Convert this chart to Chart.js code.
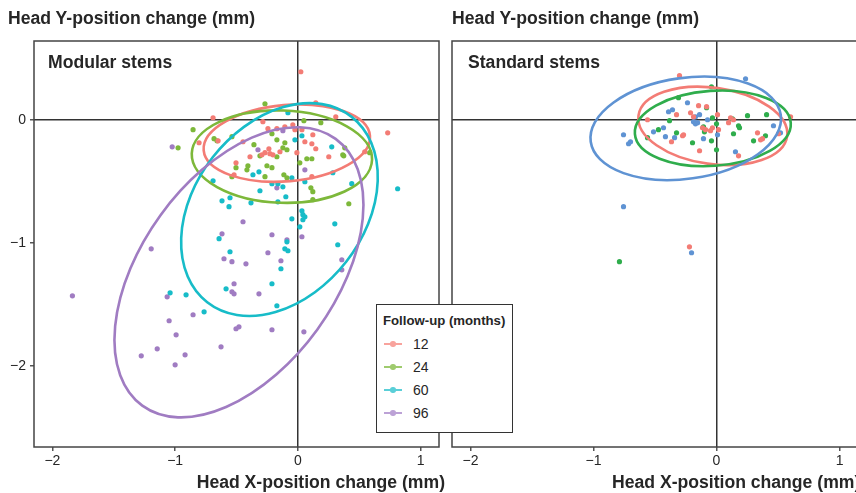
<!DOCTYPE html>
<html>
<head>
<meta charset="utf-8">
<title>Head position change</title>
<script src="https://cdn.jsdelivr.net/npm/chart.js@4.4.1/dist/chart.umd.min.js"></script>
<style>
  html, body { margin: 0; padding: 0; background: #fff; overflow: hidden; }
  body { width: 856px; height: 493px; position: relative; font-family: "Liberation Sans", Arial, sans-serif; color: #262626; }
  .panel { position: absolute; top: 0; height: 493px; }
  #leftPanel { left: 0; width: 443px; }
  #rightPanel { left: 443px; width: 420px; }
  .txt { position: absolute; white-space: nowrap; font-weight: bold; font-size: 17.6px; line-height: 20px; }
  #legend { position: absolute; left: 376px; top: 304px; width: 135px; height: 127px; background: #fff; border: 1.5px solid #333; z-index: 5; }
  #legend .ltitle { position: absolute; left: 6px; top: 8px; font-size: 13.2px; font-weight: bold; white-space: nowrap; }
  #legend .row { position: absolute; left: 7px; height: 16px; font-size: 14px; line-height: 16px; }
  #legend .sym { position: absolute; left: 0; top: 7px; width: 18px; height: 1.5px; }
  #legend .dot { position: absolute; left: 6px; top: -2px; width: 5.5px; height: 5.5px; border-radius: 50%; }
  #legend .lab { position: absolute; left: 29px; top: 0; }
</style>
</head>
<body>
<div class="panel" id="leftPanel"><canvas id="modularChart" width="443" height="493"></canvas></div>
<div class="panel" id="rightPanel"><canvas id="standardChart" width="420" height="493"></canvas></div>

<div class="txt" style="left:8px; top:8px;">Head Y-position change (mm)</div>
<div class="txt" style="left:452px; top:8px;">Head Y-position change (mm)</div>
<div class="txt" style="left:48px; top:52px;">Modular stems</div>
<div class="txt" style="left:468px; top:52px;">Standard stems</div>
<div class="txt" style="right:411px; top:472px;">Head X-position change (mm)</div>
<div class="txt" style="left:612px; top:472px;">Head X-position change (mm)</div>
<div id="legend"></div>

<script>
// Follow-up groups (months)
const groups = ['12', '24', '60', '96'];
const modularColors = ['#F37C75', '#7DB83A', '#17BCC8', '#A07CC2'];
const standardColors = ['#F37C75', '#2FAD4C', '#5F93D3'];
const legendColors = ['#F8A39D', '#9FCB6E', '#5ACFD8', '#BCA2D6'];

// x/y axis
const xRange = [-2.15, 1.15];
const yRange = [-2.66, 0.64];
const tickValues = [-2, -1, 0, 1];

// Modular stems: [x, y] in mm
const modular12 = [
  [0.024, 0.39], [0.146, 0.138], [-0.691, 0.016], [0.309, 0.024], [0.732, -0.106],
  [-0.285, -0.016], [-0.244, -0.073], [-0.171, -0.073], [-0.106, -0.057], [-0.041, -0.041],
  [-0.024, -0.081], [0.033, -0.081], [0.122, -0.122], [0.057, -0.179], [0.114, -0.195],
  [0.146, -0.236], [-0.008, -0.268], [-0.805, -0.187], [-0.650, -0.171], [-0.447, -0.179],
  [-0.236, -0.236], [-0.203, -0.285], [-0.293, -0.285], [-0.390, -0.301], [-0.268, -0.268],
  [-0.228, -0.276], [-0.146, -0.260], [-0.504, -0.350], [-0.520, -0.447], [0.114, -0.463],
  [0.252, -0.301], [0.545, -0.260]
];
const modular24 = [
  [-0.268, 0.130], [0.049, -0.008], [0.187, -0.024], [-0.854, -0.081], [-0.976, -0.228],
  [-0.683, -0.154], [-0.659, -0.171], [-0.537, -0.138], [-0.358, -0.203], [-0.211, -0.114],
  [-0.171, -0.163], [-0.106, -0.187], [-0.122, -0.228], [-0.309, -0.293], [-0.171, -0.301],
  [-0.504, -0.390], [-0.407, -0.374], [-0.415, -0.407], [-0.252, -0.374], [-0.211, -0.390],
  [-0.537, -0.463], [-0.268, -0.463], [-0.114, -0.447], [-0.089, -0.472], [0.073, -0.317],
  [0.114, -0.317], [0.016, -0.350], [0.374, -0.293], [0.585, -0.268], [0.382, -0.228],
  [0.366, -0.285], [0.106, -0.553], [0.122, -0.585], [0.122, -0.650], [0.415, -0.683],
  [-0.089, -0.244]
];
const modular60 = [
  [-0.081, 0.057], [0.033, -0.130], [-0.024, -0.163], [0.276, -0.220], [0.285, -0.431],
  [-0.049, -0.472], [0.057, -0.504], [-0.122, -0.545], [0.439, -0.520], [0.813, -0.561],
  [-0.098, -0.626], [-0.366, -0.447], [-0.317, -0.423], [-0.691, -0.496], [-0.211, -0.520],
  [-0.163, -0.520], [-0.309, -0.577], [-0.618, -0.659], [-0.553, -0.634], [-0.561, -0.707],
  [-0.382, -0.675], [-0.163, -0.667], [0.033, -0.740], [0.041, -0.772], [0.057, -0.789],
  [0.041, -0.813], [0.016, -0.870], [-0.049, -0.805], [0.301, -0.846], [0.325, -1.016],
  [-0.642, -0.967], [-0.553, -1.073], [-0.106, -1.049], [-0.081, -1.065], [-0.138, -1.211],
  [-0.211, -1.333], [-0.585, -1.374], [-1.041, -1.407], [-0.911, -1.423], [-0.764, -1.561],
  [-0.171, -1.512], [-0.089, -0.992]
];
const modular96 = [
  [-1.024, -0.220], [-0.325, -0.244], [-0.122, -0.089], [0.057, -0.407], [-0.171, -0.553],
  [-0.447, -0.829], [-0.618, -0.927], [-0.211, -0.935], [-0.089, -0.976], [0.033, -0.951],
  [-1.195, -1.049], [-0.244, -1.081], [-0.602, -1.130], [-0.537, -1.154], [-0.423, -1.171],
  [-0.138, -1.146], [0.358, -1.138], [0.358, -1.220], [-1.837, -1.431], [-0.520, -1.333],
  [-0.537, -1.398], [-0.520, -1.415], [-0.317, -1.415], [-1.065, -1.439], [-1.049, -1.634],
  [-0.854, -1.585], [-0.992, -1.748], [-0.504, -1.699], [-0.480, -1.683], [-0.211, -1.707],
  [0.049, -1.724], [-1.146, -1.862], [-1.276, -1.919], [-0.919, -1.911], [-0.626, -1.846],
  [-1.0, -1.992]
];

// Standard stems: [x, y] in mm
const standard12 = [
  [-0.301, 0.358], [-0.325, 0.041], [-0.561, 0], [-0.366, -0.179], [-0.276, -0.130],
  [-0.146, 0.114], [-0.081, 0.106], [-0.211, 0.057], [-0.187, 0.024], [0.008, 0.041],
  [0.114, 0.016], [0.138, 0], [0.602, 0.024], [-0.114, -0.065], [-0.089, -0.081],
  [-0.033, -0.065], [-0.049, -0.089], [0.016, -0.081], [0.098, -0.024], [0.333, -0.106],
  [0.374, -0.154], [0.358, -0.163], [0.504, -0.114], [-0.268, -0.122], [-0.138, -0.252],
  [0.179, -0.293], [-0.220, -1.033]
];
const standard24 = [
  [-0.382, -0.008], [-0.472, -0.081], [-0.325, -0.106], [-0.561, -0.146], [-0.309, 0.179],
  [-0.041, 0.268], [-0.081, 0.098], [-0.033, 0.016], [0.130, 0.008], [0.252, 0.033],
  [0.407, 0.041], [-0.106, -0.057], [0, -0.033], [-0.098, -0.098], [0.179, -0.049],
  [0.187, -0.065], [0.138, -0.114], [0.398, -0.130], [0.301, -0.171], [-0.041, -0.171],
  [-0.195, -0.187], [0, -0.244], [-0.789, -1.154]
];
const standard60 = [
  [0.236, 0.333], [-0.236, 0.138], [-0.390, 0.065], [-0.358, 0.081], [-0.756, -0.122],
  [-0.699, -0.179], [-0.715, -0.195], [-0.512, -0.098], [-0.431, -0.065], [-0.415, -0.138],
  [-0.341, -0.146], [-0.171, 0.024], [-0.138, 0.041], [-0.073, 0], [-0.187, -0.016],
  [-0.171, -0.033], [-0.154, -0.024], [0.008, -0.122], [0.463, -0.049], [0.520, -0.106],
  [-0.106, -0.154], [0.154, -0.260], [-0.756, -0.707], [-0.203, -1.081]
];

// Ellipses per group: [centreX, centreY, semiMajor, semiMinor, angleDeg]
const modularEllipses = [
  [-0.09, -0.19, 0.68, 0.31, 5],
  [-0.13, -0.30, 0.735, 0.375, -2],
  [-0.15, -0.73, 0.956, 0.69, 52],
  [-0.48, -1.24, 1.34, 0.79, 54]
];
const standardEllipses = [
  [-0.03, -0.05, 0.61, 0.31, -8],
  [-0.03, -0.07, 0.635, 0.305, 4],
  [-0.25, -0.07, 0.78, 0.41, 8]
];

// Draws each ellipse in data space through the chart scales
const ellipsePlugin = {
  id: 'ellipses',
  afterDatasetsDraw(chart, args, opts) {
    const { ctx, chartArea, scales: { x, y } } = chart;
    const sx = x.getPixelForValue(1) - x.getPixelForValue(0);
    const sy = y.getPixelForValue(1) - y.getPixelForValue(0);
    ctx.save();
    ctx.beginPath();
    ctx.rect(chartArea.left, chartArea.top, chartArea.width, chartArea.height);
    ctx.clip();
    opts.items.forEach((e, i) => {
      ctx.save();
      ctx.translate(x.getPixelForValue(e[0]), y.getPixelForValue(e[1]));
      ctx.scale(sx, sy);
      ctx.rotate(e[4] * Math.PI / 180);
      ctx.beginPath();
      ctx.ellipse(0, 0, e[2], e[3], 0, 0, Math.PI * 2);
      ctx.restore();
      ctx.strokeStyle = opts.colors[i];
      ctx.lineWidth = 2.6;
      ctx.stroke();
    });
    ctx.restore();
  }
};

// Panel frame
const framePlugin = {
  id: 'frame',
  afterDraw(chart) {
    const { ctx, chartArea: a } = chart;
    ctx.save();
    ctx.strokeStyle = '#444';
    ctx.lineWidth = 1.5;
    ctx.strokeRect(a.left, a.top, a.width, a.height);
    ctx.restore();
  }
};

const minus = (v) => (v < 0 ? '\u2212' + Math.abs(v) : String(v));
const zeroLine = (c) => (c.tick && c.tick.value === 0 ? '#333' : 'rgba(0,0,0,0)');

function makeScales(showY, yWidth) {
  return {
    x: {
      type: 'linear', min: xRange[0], max: xRange[1],
      afterBuildTicks: (s) => { s.ticks = tickValues.map(v => ({ value: v })); },
      afterFit: (s) => { s.height = 46; },
      border: { display: false },
      grid: { color: zeroLine, lineWidth: 1.5, tickColor: '#555', tickLength: 4 },
      ticks: { color: '#262626', font: { family: 'Liberation Sans', size: 14 }, padding: 2, callback: minus }
    },
    y: {
      type: 'linear', min: yRange[0], max: yRange[1],
      afterBuildTicks: (s) => { s.ticks = [-2, -1, 0].map(v => ({ value: v })); },
      afterFit: (s) => { s.width = yWidth; },
      border: { display: false },
      grid: { color: zeroLine, lineWidth: 1.5, drawTicks: showY, tickColor: '#555', tickLength: 4 },
      ticks: { display: showY, color: '#262626', font: { family: 'Liberation Sans', size: 14 }, padding: 4, callback: minus }
    }
  };
}

function makeChart(id, series, colors, ellipses, yWidth, showY, padRight) {
  new Chart(document.getElementById(id), {
    type: 'scatter',
    data: {
      datasets: series.map((pts, i) => ({
        label: groups[i],
        data: pts.map(p => ({ x: p[0], y: p[1] })),
        backgroundColor: colors[i],
        pointRadius: 2.6,
        pointBorderWidth: 0
      }))
    },
    options: {
      responsive: false,
      animation: false,
      layout: { padding: { top: 41, right: padRight, left: 0, bottom: 0 } },
      plugins: {
        legend: { display: false },
        tooltip: { enabled: false },
        ellipses: { items: ellipses, colors: colors }
      },
      scales: makeScales(showY, yWidth)
    },
    plugins: [ellipsePlugin, framePlugin]
  });
}

makeChart('modularChart', [modular12, modular24, modular60, modular96], modularColors, modularEllipses, 34, true, 3);
makeChart('standardChart', [standard12, standard24, standard60], standardColors, standardEllipses, 9, false, 5);

// HTML legend built from the group arrays
const legend = document.getElementById('legend');
legend.innerHTML = '<div class="ltitle">Follow-up (months)</div>' + groups.map((g, i) =>
  `<div class="row" style="top:${31 + i * 23}px"><span class="sym" style="background:${legendColors[i]}"><span class="dot" style="background:${legendColors[i]}"></span></span><span class="lab">${g}</span></div>`
).join('');
</script>
</body>
</html>
